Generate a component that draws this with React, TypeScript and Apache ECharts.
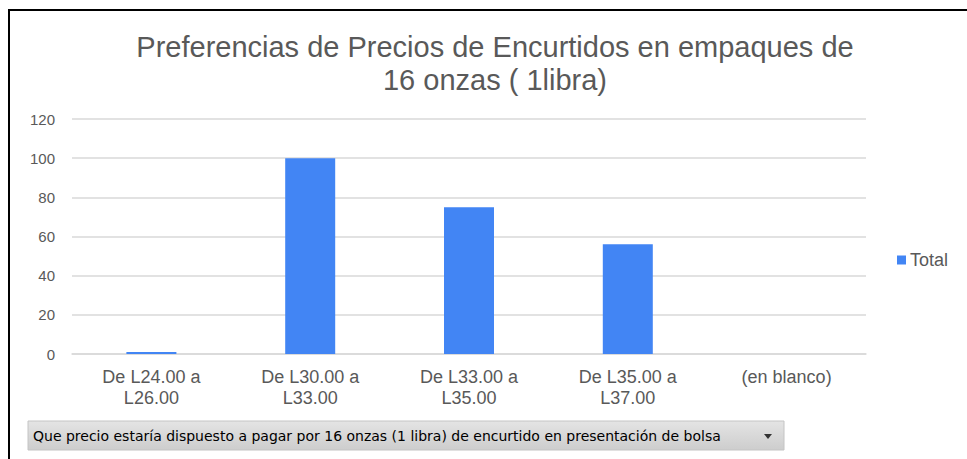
import React, { useEffect, useRef } from "react";
import * as echarts from "echarts";

const categories = [
  "De L24.00 a\nL26.00",
  "De L30.00 a\nL33.00",
  "De L33.00 a\nL35.00",
  "De L35.00 a\nL37.00",
  "(en blanco)",
];
const totalValues = [1, 100, 75, 56, 0];
const seriesName = "Total";
const chartTitle = "Preferencias de Precios de Encurtidos en empaques de\n16 onzas ( 1libra)";
const filterLabel =
  "Que precio estaría dispuesto a pagar por 16 onzas (1 libra) de encurtido en presentación de bolsa";

export default function App() {
  const ref = useRef<HTMLDivElement>(null);
  useEffect(() => {
    if (!ref.current) return;
    const chart = echarts.init(ref.current, null, { renderer: "svg" });
    chart.setOption({
      animation: false,
      backgroundColor: "#ffffff",
      textStyle: { fontFamily: "Liberation Sans, Arial, sans-serif" },
      title: {
        text: chartTitle,
        left: 490,
        top: 25,
        textAlign: "center",
        textStyle: {
          fontSize: 29,
          fontWeight: "normal",
          color: "#595959",
          lineHeight: 33,
          fontFamily: "Liberation Sans, Arial, sans-serif",
        },
      },
      legend: {
        left: 897,
        top: 251,
        padding: 0,
        itemWidth: 9,
        itemHeight: 9,
        itemGap: 4,
        icon: "rect",
        textStyle: { fontSize: 18, color: "#595959", padding: [0, 0, 0, -1] },
        data: [seriesName],
      },
      grid: { left: 72, right: 101, top: 119, bottom: 105, containLabel: false },
      xAxis: {
        type: "category",
        data: categories,
        axisLine: { lineStyle: { color: "#d9d9d9", width: 1.5 } },
        axisTick: { show: false },
        axisLabel: {
          color: "#595959",
          fontSize: 18,
          lineHeight: 21,
          margin: 12,
          interval: 0,
        },
      },
      yAxis: {
        type: "value",
        min: 0,
        max: 120,
        interval: 20,
        axisLine: { show: false },
        axisTick: { show: false },
        axisLabel: { color: "#595959", fontSize: 15, margin: 17 },
        splitLine: { lineStyle: { color: "#d9d9d9", width: 1.5 } },
      },
      series: [
        {
          name: seriesName,
          type: "bar",
          data: totalValues,
          barWidth: 50,
          itemStyle: { color: "#4285f4" },
        },
      ],
      graphic: [
        {
          type: "polyline",
          shape: { points: [[9, 459], [9, 10], [967, 10]] },
          style: { stroke: "#000000", lineWidth: 2, fill: "none" },
          z: 100,
        },
        {
          type: "rect",
          shape: { x: 28, y: 421, width: 756, height: 29 },
          style: {
            fill: new echarts.graphic.LinearGradient(0, 0, 0, 1, [
              { offset: 0, color: "#e4e4e4" },
              { offset: 1, color: "#cdcdcd" },
            ]),
            stroke: "#c4c4c4",
            lineWidth: 1,
          },
        },
        {
          type: "text",
          x: 33,
          y: 436,
          style: {
            text: filterLabel,
            fill: "#000000",
            font: "14px 'DejaVu Sans', Tahoma, sans-serif",
            verticalAlign: "middle",
          },
        },
        {
          type: "polygon",
          shape: { points: [[764, 434], [772, 434], [768, 439]] },
          style: { fill: "#333333" },
        },
      ],
    });
    return () => chart.dispose();
  }, []);
  return (
    <div
      ref={ref}
      style={{ position: "fixed", left: 0, top: 0, width: 967, height: 459 }}
    />
  );
}
